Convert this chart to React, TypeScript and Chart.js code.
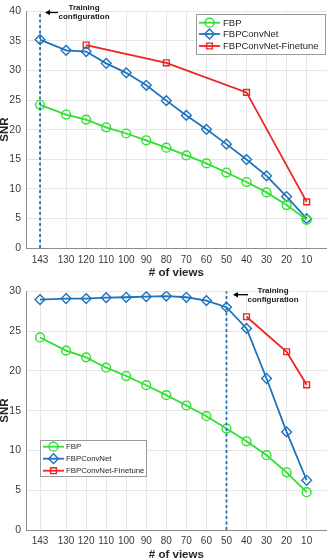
import React, { useEffect, useRef } from "react";
import { Chart, registerables } from "chart.js";
import { drawPoint } from "chart.js/helpers";

Chart.register(...registerables);

// Number of projection views (x axis, shown in decreasing order)
const views = [143, 130, 120, 110, 100, 90, 80, 70, 60, 50, 40, 30, 20, 10];

// FBP reconstruction SNR (same in both panels)
const fbpSnr = [24.2, 22.55, 21.7, 20.4, 19.35, 18.2, 16.95, 15.65, 14.3, 12.75, 11.15, 9.4, 7.25, 4.75];

// Top panel: network trained at 143 views
const convNetSnrTop = [35.2, 33.4, 33.2, 31.2, 29.6, 27.5, 24.9, 22.4, 20.05, 17.55, 14.95, 12.2, 8.7, 4.95];
const finetuneViewsTop = [120, 80, 40, 10];
const finetuneSnrTop = [34.3, 31.3, 26.3, 7.8];
const trainingViewsTop = 143;
const yMaxTop = 40;

// Bottom panel: network trained at 50 views
const convNetSnrBottom = [28.96, 29.08, 29.08, 29.2, 29.25, 29.33, 29.4, 29.25, 28.83, 28.0, 25.33, 19.04, 12.33, 6.25];
const finetuneViewsBottom = [40, 20, 10];
const finetuneSnrBottom = [26.8, 22.4, 18.25];
const trainingViewsBottom = 50;
const yMaxBottom = 30;

const seriesNames = ["FBP", "FBPConvNet", "FBPConvNet-Finetune"];
const xTitle = "# of views";
const yTitle = "SNR";
const noteLines = ["Training", "configuration"];

const GREEN = "#2fe02f";
const BLUE = "#1f73bb";
const RED = "#ec2424";
const FONT = "'Liberation Sans', Arial, Helvetica, sans-serif";

const seriesStyles = [
  { color: GREEN, pointStyle: "circle", radius: 4.4 },
  { color: BLUE, pointStyle: "rectRot", radius: 4.9 },
  { color: RED, pointStyle: "rect", radius: 4.1 },
];

type PanelSpec = {
  height: number;
  top: number;
  xAxisHeight: number;
  xTickPad: number;
  yMax: number;
  convNet: number[];
  fineViews: number[];
  fineSnr: number[];
  trainViews: number;
  xTitleY: number;
  legend: { x: number; y: number; w: number; h: number; rows: number[]; lineX0: number; lineX1: number; textX: number; font: number };
  note: { cx: number; y1: number; y2: number; arrowX0: number; arrowX1: number; arrowY: number };
};

const pts = (xs: number[], ys: number[]) => xs.map((x, i) => ({ x, y: ys[i] }));

function Panel({ spec }: { spec: PanelSpec }) {
  const ref = useRef<HTMLCanvasElement | null>(null);

  useEffect(() => {
    const canvas = ref.current;
    if (!canvas) return;

    const lineDs = (label: string, data: { x: number; y: number }[], s: any) => ({
      label,
      data,
      borderColor: s.color,
      backgroundColor: "rgba(0,0,0,0)",
      borderWidth: 1.8,
      pointStyle: s.pointStyle,
      pointRadius: s.radius,
      pointBorderWidth: 1.4,
      pointBorderColor: s.color,
      pointBackgroundColor: "rgba(0,0,0,0)",
      tension: 0,
    });

    const decor = {
      id: "decor",
      afterDraw(chart: any) {
        const ctx = chart.ctx as CanvasRenderingContext2D;
        const area = chart.chartArea;
        ctx.save();
        ctx.fillStyle = "#262626";
        // axis titles
        ctx.font = `bold 11.5px ${FONT}`;
        ctx.textAlign = "center";
        ctx.textBaseline = "middle";
        ctx.fillText(xTitle, (area.left + area.right) / 2, spec.xTitleY);
        ctx.save();
        ctx.translate(4.5, (area.top + area.bottom) / 2);
        ctx.rotate(-Math.PI / 2);
        ctx.fillText(yTitle, 0, 0);
        ctx.restore();

        // training-configuration note with arrow
        const n = spec.note;
        ctx.font = `bold 8px ${FONT}`;
        ctx.fillStyle = "#1a1a1a";
        ctx.fillText(noteLines[0], n.cx, n.y1);
        ctx.fillText(noteLines[1], n.cx, n.y2);
        ctx.strokeStyle = "#000";
        ctx.lineWidth = 1.3;
        ctx.beginPath();
        ctx.moveTo(n.arrowX1, n.arrowY);
        ctx.lineTo(n.arrowX0 + 3, n.arrowY);
        ctx.stroke();
        ctx.fillStyle = "#000";
        ctx.beginPath();
        ctx.moveTo(n.arrowX0, n.arrowY);
        ctx.lineTo(n.arrowX0 + 5, n.arrowY - 2.8);
        ctx.lineTo(n.arrowX0 + 5, n.arrowY + 2.8);
        ctx.closePath();
        ctx.fill();

        // legend box
        const L = spec.legend;
        ctx.fillStyle = "#fff";
        ctx.fillRect(L.x, L.y, L.w, L.h);
        ctx.strokeStyle = "#9a9a9a";
        ctx.lineWidth = 1;
        ctx.strokeRect(L.x + 0.5, L.y + 0.5, L.w, L.h);
        ctx.font = `${L.font}px ${FONT}`;
        ctx.textAlign = "left";
        seriesNames.forEach((name, i) => {
          const s = seriesStyles[i];
          const y = L.rows[i];
          ctx.strokeStyle = s.color;
          ctx.lineWidth = 1.8;
          ctx.beginPath();
          ctx.moveTo(L.lineX0, y);
          ctx.lineTo(L.lineX1, y);
          ctx.stroke();
          ctx.fillStyle = "rgba(0,0,0,0)";
          ctx.lineWidth = 1.4;
          drawPoint(ctx, { pointStyle: s.pointStyle as any, radius: s.radius, rotation: 0, borderWidth: 1.4 } as any, (L.lineX0 + L.lineX1) / 2, y);
          ctx.fillStyle = "#262626";
          ctx.fillText(name, L.textX, y + 0.5);
        });
        ctx.restore();
      },
    };

    const chart = new Chart(canvas, {
      type: "line",
      data: {
        datasets: [
          {
            label: "training",
            data: [
              { x: spec.trainViews, y: 0 },
              { x: spec.trainViews, y: spec.yMax },
            ],
            borderColor: BLUE,
            borderWidth: 1.8,
            borderDash: [3, 2.5],
            pointRadius: 0,
          } as any,
          lineDs(seriesNames[0], pts(views, fbpSnr), seriesStyles[0]),
          lineDs(seriesNames[1], pts(views, spec.convNet), seriesStyles[1]),
          lineDs(seriesNames[2], pts(spec.fineViews, spec.fineSnr), seriesStyles[2]),
        ],
      },
      options: {
        animation: false,
        responsive: false,
        maintainAspectRatio: false,
        layout: { padding: { top: spec.top, right: 2, left: 0, bottom: 0 } },
        plugins: { legend: { display: false }, tooltip: { enabled: false } },
        scales: {
          x: {
            type: "linear",
            reverse: true,
            min: 0,
            max: 150,
            afterBuildTicks: (scale: any) => {
              scale.ticks = views.map((v) => ({ value: v }));
            },
            afterFit: (scale: any) => {
              scale.height = spec.xAxisHeight;
            },
            ticks: {
              autoSkip: false,
              maxRotation: 0,
              padding: spec.xTickPad,
              color: "#3a3a3a",
              font: { family: FONT, size: 10 },
              callback: (v: any) => String(v),
            },
            grid: { color: "#e6e6e6", lineWidth: 1, drawTicks: false },
            border: { color: "#8c8c8c", width: 1 },
          },
          y: {
            min: 0,
            max: spec.yMax,
            afterFit: (scale: any) => {
              scale.width = 26;
            },
            ticks: {
              stepSize: 5,
              padding: 5,
              color: "#3a3a3a",
              font: { family: FONT, size: 10.5 },
            },
            grid: { color: "#e6e6e6", lineWidth: 1, drawTicks: false },
            border: { color: "#8c8c8c", width: 1 },
          },
        },
      },
      plugins: [decor],
    });
    return () => chart.destroy();
  }, [spec]);

  return <canvas ref={ref} width={333} height={spec.height} style={{ display: "block", width: 333, height: spec.height }} />;
}

const topSpec: PanelSpec = {
  height: 280,
  top: 8,
  xAxisHeight: 32,
  xTickPad: 6,
  yMax: yMaxTop,
  convNet: convNetSnrTop,
  fineViews: finetuneViewsTop,
  fineSnr: finetuneSnrTop,
  trainViews: trainingViewsTop,
  xTitleY: 273,
  legend: { x: 196, y: 14, w: 129, h: 40, rows: [22.7, 34, 46], lineX0: 199, lineX1: 220, textX: 223, font: 9.5 },
  note: { cx: 84, y1: 7.3, y2: 16.5, arrowX0: 45, arrowX1: 58, arrowY: 12.5 },
};

const bottomSpec: PanelSpec = {
  height: 279,
  top: 10,
  xAxisHeight: 29,
  xTickPad: 5.5,
  yMax: yMaxBottom,
  convNet: convNetSnrBottom,
  fineViews: finetuneViewsBottom,
  fineSnr: finetuneSnrBottom,
  trainViews: trainingViewsBottom,
  xTitleY: 275,
  legend: { x: 40, y: 160, w: 106, h: 36, rows: [166.7, 178.7, 190.7], lineX0: 43, lineX1: 64, textX: 66, font: 7.8 },
  note: { cx: 273, y1: 10.7, y2: 19.3, arrowX0: 233, arrowX1: 248, arrowY: 14.7 },
};

export default function App() {
  return (
    <div style={{ position: "absolute", left: 0, top: 0, width: 333, height: 559, background: "#fff" }}>
      <Panel spec={topSpec} />
      <Panel spec={bottomSpec} />
    </div>
  );
}
